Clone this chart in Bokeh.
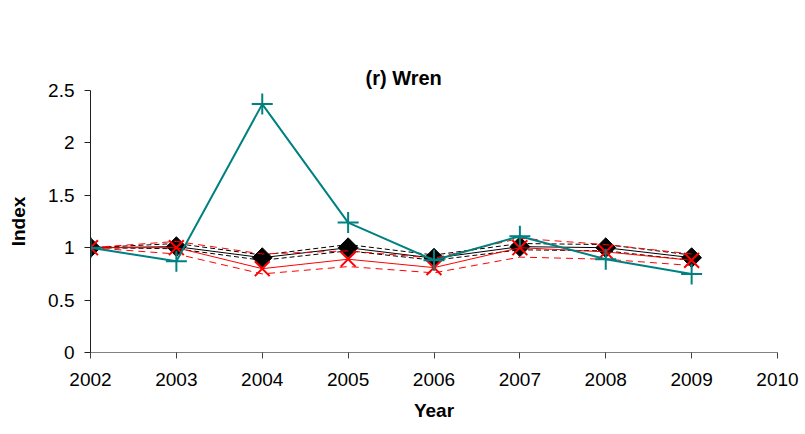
import math
from bokeh.plotting import figure
from bokeh.models import Range1d, FixedTicker, Title
from bokeh.embed import file_html
from bokeh.resources import INLINE

# Survey years
years = [2002, 2003, 2004, 2005, 2006, 2007, 2008, 2009]

# Main index (black diamonds) with its confidence limits (black dashes)
index_main = [1.00, 1.01, 0.905, 1.00, 0.90, 1.01, 1.00, 0.905]
index_main_upper = [1.00, 1.04, 0.93, 1.03, 0.93, 1.04, 1.03, 0.93]
index_main_lower = [1.00, 0.99, 0.88, 0.97, 0.88, 0.98, 0.97, 0.88]

# Alternative index (red crosses) with its confidence limits (red dashes)
index_alt = [1.00, 1.00, 0.80, 0.89, 0.81, 1.00, 0.96, 0.88]
index_alt_upper = [1.00, 1.06, 0.94, 0.97, 0.90, 1.09, 1.03, 0.94]
index_alt_lower = [1.00, 0.94, 0.75, 0.82, 0.76, 0.91, 0.89, 0.83]

# Raw index (teal plus signs)
index_raw = [1.00, 0.87, 2.37, 1.24, 0.88, 1.11, 0.89, 0.75]

y_ticks = [0, 0.5, 1, 1.5, 2, 2.5]
y_tick_labels = ["0", "0.5", "1", "1.5", "2", "2.5"]
x_ticks = [2002, 2003, 2004, 2005, 2006, 2007, 2008, 2009, 2010]

FONT = "Liberation Sans"
TEAL = "#008080"
RED = "#ff0000"

p = figure(width=805, height=434, output_backend="svg", toolbar_location=None,
           x_range=Range1d(2002, 2010), y_range=Range1d(0, 2.5),
           min_border_left=90, min_border_right=28,
           min_border_top=90, min_border_bottom=82)

# the built-in title holds only a blank and acts as a spacer next to the plotting area
p.title.text = " "
p.title.text_font_size = "13px"
p.title.standoff = 40

# visible heading, stacked above the spacer
heading = Title(text="(r) Wren", text_font=FONT, text_font_size="20px",
                text_font_style="bold", text_color="black",
                align="left", offset=275, standoff=4)
p.add_layout(heading, "above")

p.outline_line_color = None
p.xgrid.visible = False
p.ygrid.visible = False
p.background_fill_color = "white"
p.border_fill_color = "white"

# Axes
p.xaxis.ticker = FixedTicker(ticks=x_ticks)
p.yaxis.ticker = FixedTicker(ticks=y_ticks)
p.yaxis.major_label_overrides = {t: s for t, s in zip(y_ticks, y_tick_labels)}
p.xaxis.axis_label = "Year"
p.yaxis.axis_label = "Index"
for ax in (p.xaxis[0], p.yaxis[0]):
    ax.major_label_text_font = FONT
    ax.major_label_text_font_size = "19px"
    ax.major_label_text_color = "black"
    ax.axis_label_text_font = FONT
    ax.axis_label_text_font_size = "19px"
    ax.axis_label_text_font_style = "bold"
    ax.axis_label_text_color = "black"
    ax.minor_tick_line_color = None
    ax.major_tick_in = 0
    ax.major_tick_out = 6
p.xaxis.axis_line_color = "#808080"
p.xaxis.major_tick_line_color = "#404040"
p.yaxis.axis_line_color = "#202020"
p.yaxis.major_tick_line_color = "#202020"
p.xaxis.major_label_standoff = 14
p.yaxis.major_label_standoff = 10
p.xaxis.axis_label_standoff = 11
p.yaxis.axis_label_standoff = 16

# Main index and its limits
p.line(years, index_main_upper, line_color="black", line_width=1, line_dash="5 3")
p.line(years, index_main_lower, line_color="black", line_width=1, line_dash="5 3")
p.line(years, index_main, line_color="black", line_width=1)
p.scatter(years, index_main, marker="square", angle=math.pi / 4, size=14,
          fill_color="black", line_color="black")

# Alternative index and its limits
p.line(years, index_alt_upper, line_color=RED, line_width=1, line_dash="7 5")
p.line(years, index_alt_lower, line_color=RED, line_width=1, line_dash="7 5")
p.line(years, index_alt, line_color=RED, line_width=1)
p.scatter(years, index_alt, marker="x", size=21, line_color=RED, line_width=2)

# Raw index
p.line(years, index_raw, line_color=TEAL, line_width=2)
p.scatter(years, index_raw, marker="cross", size=21, line_color=TEAL, line_width=2)

open("out.html", "w").write(file_html(p, INLINE))
